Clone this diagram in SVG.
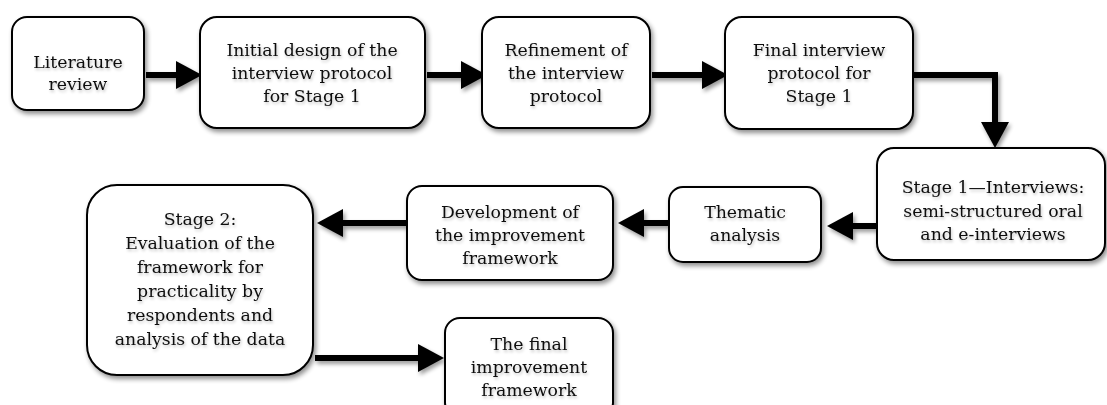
<svg xmlns="http://www.w3.org/2000/svg" width="1107" height="405" viewBox="0 0 1107 405">
  <defs>
    <filter id="shadow" x="-20%" y="-20%" width="150%" height="150%">
      <feGaussianBlur in="SourceAlpha" stdDeviation="2.5"/>
      <feOffset dx="2" dy="3" result="b"/>
      <feComponentTransfer><feFuncA type="linear" slope="0.45"/></feComponentTransfer>
      <feMerge><feMergeNode/><feMergeNode in="SourceGraphic"/></feMerge>
    </filter>
    <!-- canvas-sized region so straight (zero-height) lines still get their shadow -->
    <filter id="lineShadow" filterUnits="userSpaceOnUse" x="0" y="0" width="1107" height="405">
      <feGaussianBlur in="SourceAlpha" stdDeviation="2"/>
      <feOffset dx="2" dy="3"/>
      <feComponentTransfer><feFuncA type="linear" slope="0.4"/></feComponentTransfer>
      <feMerge><feMergeNode/><feMergeNode in="SourceGraphic"/></feMerge>
    </filter>
    <filter id="glow" x="-10%" y="-30%" width="120%" height="160%">
      <feGaussianBlur in="SourceAlpha" stdDeviation="1.5"/>
      <feOffset dx="1" dy="2"/>
      <feComponentTransfer><feFuncA type="linear" slope="0.25"/></feComponentTransfer>
      <feMerge><feMergeNode/><feMergeNode in="SourceGraphic"/></feMerge>
    </filter>
    <!-- head starts at the path end, so the shaft never pokes through the tip -->
    <marker id="head" markerUnits="userSpaceOnUse" markerWidth="28" markerHeight="30" refX="0" refY="14" orient="auto">
      <path d="M0,0 L26,14 L0,28 Z" fill="#000"/>
    </marker>
  </defs>
  <style>
    .box { fill: #fff; stroke: #000; stroke-width: 2; filter: url(#shadow); }
    .lbl { font-family: "DejaVu Serif", "Liberation Serif", serif; font-size: 17.3px; fill: #111; text-anchor: middle; filter: url(#glow); }
    .conn { fill: none; stroke: #000; stroke-width: 6; marker-end: url(#head); }
    #connectors { filter: url(#lineShadow); }
  </style>

  <g id="connectors">
    <path class="conn" d="M146,75 L176,75"/>
    <path class="conn" d="M427,75 L461,75"/>
    <path class="conn" d="M652,75 L702,75"/>
    <path class="conn" d="M913,75 L995,75 L995,122"/>
    <path class="conn" d="M877,226 L853,226"/>
    <path class="conn" d="M669,223 L644,223"/>
    <path class="conn" d="M407,223 L343,223"/>
    <path class="conn" d="M315,358 L418,358"/>
  </g>

  <g id="literature-review">
    <rect class="box" x="12" y="17" width="132" height="93" rx="15"/>
    <text class="lbl"><tspan x="78" y="68">Literature</tspan><tspan x="78" y="90">review</tspan></text>
  </g>

  <g id="initial-design">
    <rect class="box" x="200" y="17" width="225" height="111" rx="17"/>
    <text class="lbl"><tspan x="312" y="56">Initial design of the</tspan><tspan x="312" y="79">interview protocol</tspan><tspan x="312" y="102">for Stage 1</tspan></text>
  </g>

  <g id="refinement">
    <rect class="box" x="482" y="17" width="168" height="111" rx="17"/>
    <text class="lbl"><tspan x="566" y="56">Refinement of</tspan><tspan x="566" y="79">the interview</tspan><tspan x="566" y="102">protocol</tspan></text>
  </g>

  <g id="final-protocol">
    <rect class="box" x="725" y="17" width="188" height="112" rx="17"/>
    <text class="lbl"><tspan x="819" y="56">Final interview</tspan><tspan x="819" y="79">protocol for</tspan><tspan x="819" y="102">Stage 1</tspan></text>
  </g>

  <g id="stage1-interviews">
    <rect class="box" x="877" y="148" width="228" height="112" rx="17"/>
    <text class="lbl"><tspan x="993" y="193">Stage 1—Interviews:</tspan><tspan x="993" y="217">semi-structured oral</tspan><tspan x="993" y="240">and e-interviews</tspan></text>
  </g>

  <g id="thematic-analysis">
    <rect class="box" x="669" y="187" width="152" height="75" rx="14"/>
    <text class="lbl"><tspan x="745" y="218">Thematic</tspan><tspan x="745" y="241">analysis</tspan></text>
  </g>

  <g id="development">
    <rect class="box" x="407" y="186" width="206" height="94" rx="15"/>
    <text class="lbl"><tspan x="510" y="218">Development of</tspan><tspan x="510" y="241">the improvement</tspan><tspan x="510" y="264">framework</tspan></text>
  </g>

  <g id="stage2-evaluation">
    <rect class="box" x="87" y="185" width="226" height="190" rx="30"/>
    <text class="lbl"><tspan x="200" y="225">Stage 2:</tspan><tspan x="200" y="249">Evaluation of the</tspan><tspan x="200" y="273">framework for</tspan><tspan x="200" y="297">practicality by</tspan><tspan x="200" y="321">respondents and</tspan><tspan x="200" y="345">analysis of the data</tspan></text>
  </g>

  <g id="final-framework">
    <rect class="box" x="445" y="318" width="168" height="100" rx="15"/>
    <text class="lbl"><tspan x="529" y="350">The final</tspan><tspan x="529" y="373">improvement</tspan><tspan x="529" y="396">framework</tspan></text>
  </g>
</svg>
